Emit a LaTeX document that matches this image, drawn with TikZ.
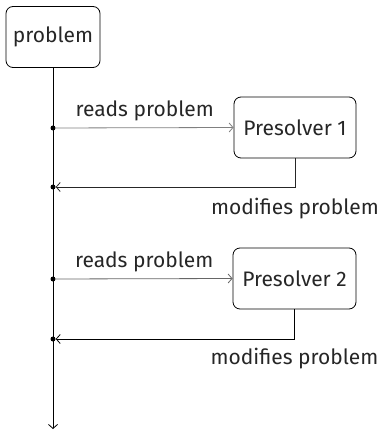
\documentclass[tikz,border=0pt]{standalone}
\usepackage{fontspec}
\setmainfont{Fira Sans}
\usetikzlibrary{arrows.meta,positioning}

\begin{document}
\begin{tikzpicture}[
  x=1pt, y=-1pt,
  font=\fontsize{21}{24}\selectfont,
  box/.style={draw, line width=0.8pt, rounded corners=7pt,
    minimum height=61pt, inner sep=0pt, align=center, text=black!85},
  flow/.style={-{Straight Barb[length=4pt, width=9pt]}, line width=0.8pt},
  lbl/.style={text=black!85, inner sep=6pt},
  tap/.style={circle, fill, inner sep=0pt, minimum size=5pt},
]
\useasboundingbox (0,0) rectangle (381,430);

\node[box, minimum width=94pt]  (prob) at (53,37)       {problem};
\node[box, minimum width=122pt] (ps1)  at (295,127.5)   {Presolver 1};
\node[box, minimum width=123pt] (ps2)  at (294.5,278.5) {Presolver 2};

% taps on the main line
\node[tap] (r1) at (53,128) {};
\node[tap] (w1) at (53,187) {};
\node[tap] (r2) at (53,279) {};
\node[tap] (w2) at (53,339) {};
\coordinate (end) at (53,429);

\draw[flow] (prob.south) -- (end);

\draw[flow, black!50] (r1) -- node[lbl, above] {reads problem} (ps1.west);
\draw[flow, black!85] (ps1.south) |- node[lbl, below, pos=0.5, yshift=-5pt] {modifies problem} (w1);

\draw[flow, black!60] (r2) -- node[lbl, above] {reads problem} (ps2.west);
\draw[flow] (ps2.south) |- node[lbl, below, pos=0.5, yshift=-3pt] {modifies problem} (w2);
\end{tikzpicture}
\end{document}
